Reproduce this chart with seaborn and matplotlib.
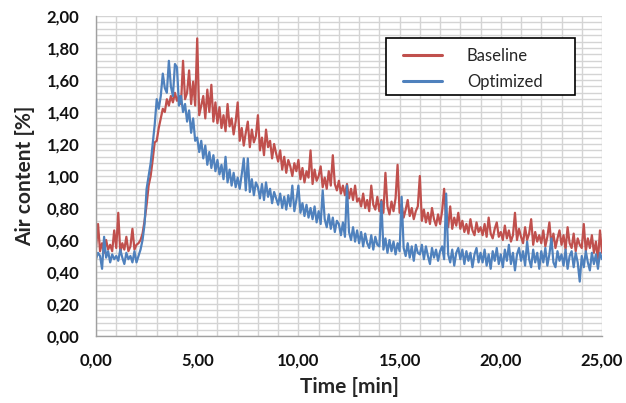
import numpy as np
import pandas as pd
import matplotlib
matplotlib.use("Agg")
import matplotlib.pyplot as plt
from matplotlib.patches import Rectangle
from matplotlib.ticker import MultipleLocator, FuncFormatter
import seaborn as sns

# Sampling time axis: one reading every 0.1 min from 0 to 25 min
time_min = [round(i * 0.1, 1) for i in range(251)]

baseline = [
    0.55, 0.70, 0.53, 0.58, 0.52, 0.60, 0.54, 0.57, 0.53, 0.66,
    0.55, 0.77, 0.52, 0.58, 0.54, 0.62, 0.53, 0.56, 0.67, 0.54,
    0.57, 0.58, 0.60, 0.64, 0.72, 0.82, 0.94, 1.00, 1.10, 1.21,
    1.22, 1.30, 1.36, 1.42, 1.40, 1.48, 1.44, 1.50, 1.46, 1.52,
    1.47, 1.50, 1.45, 1.72, 1.48, 1.52, 1.66, 1.45, 1.59, 1.44,
    1.86, 1.38, 1.44, 1.50, 1.36, 1.54, 1.40, 1.57, 1.34, 1.46,
    1.33, 1.43, 1.30, 1.38, 1.28, 1.45, 1.31, 1.36, 1.26, 1.34,
    1.46, 1.22, 1.30, 1.19, 1.27, 1.34, 1.18, 1.29, 1.21, 1.25,
    1.38, 1.16, 1.24, 1.13, 1.29, 1.18, 1.22, 1.11, 1.20, 1.14,
    1.09, 1.16, 1.04, 1.12, 1.02, 1.10, 1.06, 1.00, 1.08, 1.03,
    1.10, 0.98, 1.05, 0.96, 1.03, 0.99, 1.16, 0.95, 1.04, 0.97,
    1.00, 1.06, 0.93, 0.99, 0.92, 1.03, 0.94, 1.13, 0.95, 0.91,
    0.97, 0.89, 0.94, 0.88, 0.95, 0.86, 0.92, 0.85, 0.94, 0.84,
    0.86, 0.81, 0.89, 0.80, 0.85, 0.78, 0.94, 0.82, 0.79, 0.87,
    0.78, 0.85, 0.77, 1.02, 0.81, 0.76, 0.84, 0.78, 0.86, 1.07,
    0.77, 0.82, 0.74, 0.79, 0.85, 0.75, 0.80, 0.73, 0.78, 0.81,
    1.00, 0.72, 0.79, 0.71, 0.77, 0.70, 0.80, 0.73, 0.69, 0.76,
    0.70, 0.78, 0.92, 0.72, 0.68, 0.81, 0.67, 0.74, 0.69, 0.77,
    0.67, 0.72, 0.65, 0.70, 0.64, 0.73, 0.66, 0.63, 0.71, 0.65,
    0.68, 0.63, 0.70, 0.62, 0.74, 0.64, 0.61, 0.67, 0.71, 0.62,
    0.65, 0.60, 0.69, 0.61, 0.66, 0.59, 0.63, 0.77, 0.60, 0.67,
    0.62, 0.58, 0.68, 0.60, 0.64, 0.73, 0.57, 0.65, 0.59, 0.63,
    0.58, 0.66, 0.56, 0.62, 0.71, 0.57, 0.64, 0.55, 0.61, 0.66,
    0.57, 0.63, 0.54, 0.68, 0.58, 0.55, 0.64, 0.53, 0.61, 0.57,
    0.55, 0.70, 0.53, 0.61, 0.55, 0.63, 0.52, 0.59, 0.47, 0.66,
    0.52,
]

optimized = [
    0.48, 0.52, 0.50, 0.42, 0.62, 0.49, 0.53, 0.46, 0.51, 0.48,
    0.50, 0.47, 0.54, 0.49, 0.45, 0.52, 0.48, 0.50, 0.46, 0.53,
    0.46, 0.50, 0.54, 0.60, 0.70, 0.92, 1.00, 1.08, 1.20, 1.32,
    1.48, 1.42, 1.50, 1.64, 1.55, 1.52, 1.72, 1.56, 1.50, 1.70,
    1.68, 1.44, 1.50, 1.40, 1.45, 1.34, 1.41, 1.27, 1.36, 1.22,
    1.24, 1.15, 1.22, 1.11, 1.19, 1.07, 1.15, 1.05, 1.13, 1.03,
    1.10, 1.01, 1.07, 0.98, 1.12, 0.96, 1.04, 0.94, 1.02, 0.93,
    0.99, 0.92, 1.01, 1.11, 0.91, 1.11, 0.90, 0.98, 0.88, 0.96,
    0.93, 0.86, 0.95, 0.85, 0.96, 0.87, 0.92, 0.83, 0.90, 0.86,
    0.82, 0.89, 0.80, 0.87, 0.79, 0.88, 0.81, 0.94, 0.78, 0.85,
    0.94, 0.77, 0.83, 0.75, 0.82, 0.74, 0.80, 0.73, 0.81, 0.71,
    0.78, 0.70, 0.91, 0.73, 0.68, 0.76, 0.67, 0.74, 0.65, 0.72,
    0.70, 0.63, 0.71, 0.62, 0.94, 0.65, 0.60, 0.68, 0.59, 0.66,
    0.58, 0.65, 0.56, 0.64, 0.58, 0.55, 0.63, 0.54, 0.62, 0.57,
    0.56, 0.84, 0.54, 0.61, 0.52, 0.60, 0.53, 0.59, 0.51, 0.58,
    0.53, 0.87, 0.55, 0.50, 0.58, 0.49, 0.56, 0.47, 0.57, 0.52,
    0.51, 0.57, 0.48, 0.56, 0.50, 0.45, 0.55, 0.49, 0.54, 0.47,
    0.53, 0.56, 0.48, 0.89, 0.51, 0.46, 0.54, 0.44, 0.52, 0.55,
    0.48, 0.54, 0.45, 0.53, 0.47, 0.52, 0.43, 0.51, 0.55, 0.46,
    0.52, 0.46, 0.54, 0.44, 0.51, 0.42, 0.53, 0.47, 0.55, 0.45,
    0.51, 0.43, 0.54, 0.47, 0.57, 0.45, 0.52, 0.41, 0.51, 0.55,
    0.47, 0.53, 0.44, 0.59, 0.48, 0.43, 0.54, 0.46, 0.52, 0.42,
    0.53, 0.46, 0.55, 0.44, 0.51, 0.61, 0.46, 0.43, 0.53, 0.47,
    0.51, 0.44, 0.54, 0.42, 0.50, 0.53, 0.43, 0.52, 0.46, 0.34,
    0.50, 0.43, 0.53, 0.46, 0.41, 0.52, 0.45, 0.51, 0.42, 0.52,
    0.48,
]

series_names = ["Baseline", "Optimized"]
series_colors = ["#C0504D", "#4F81BD"]

df = pd.concat([
    pd.DataFrame({"Time": time_min, "Air": baseline, "Series": series_names[0]}),
    pd.DataFrame({"Time": time_min, "Air": optimized, "Series": series_names[1]}),
], ignore_index=True)

sns.set_theme(style="white")
plt.rcParams["font.family"] = ["Lato", "DejaVu Sans"]

W, H = 626, 403
fig = plt.figure(figsize=(W / 100, H / 100), dpi=100)
ax = fig.add_axes([96 / W, 1 - 336 / H, (602 - 96) / W, (336 - 16) / H])

sns.lineplot(data=df, x="Time", y="Air", hue="Series",
             palette=dict(zip(series_names, series_colors)),
             estimator=None, errorbar=None, linewidth=1.6, ax=ax, legend=True)

ax.set_xlim(0, 25)
ax.set_ylim(0, 2.0)

# Excel-style grid: 1 min vertical, 0.04 % horizontal
grid_color = "#D4D4D4"
ax.xaxis.set_major_locator(MultipleLocator(5))
ax.xaxis.set_minor_locator(MultipleLocator(1))
ax.yaxis.set_major_locator(MultipleLocator(0.2))
ax.yaxis.set_minor_locator(MultipleLocator(0.04))
ax.grid(True, which="both", color=grid_color, linewidth=1.0)
ax.set_axisbelow(True)

comma = FuncFormatter(lambda v, p: f"{v:.2f}".replace(".", ","))
ax.xaxis.set_major_formatter(comma)
ax.yaxis.set_major_formatter(comma)

for side in ["top", "right"]:
    ax.spines[side].set_visible(False)
for side in ["left", "bottom"]:
    ax.spines[side].set_color("#A0A0A0")
    ax.spines[side].set_linewidth(1.0)

ax.tick_params(axis="both", which="major", direction="out", length=5,
               width=1.0, color="#A0A0A0", labelsize=12, pad=7)
ax.tick_params(axis="both", which="minor", length=0)
for lbl in ax.get_xticklabels() + ax.get_yticklabels():
    lbl.set_fontweight("bold")
    lbl.set_color("#111111")

ax.set_xlabel("Time [min]", fontsize=15, fontweight="bold", labelpad=6)
ax.set_ylabel("Air content [%]", fontsize=15, fontweight="bold", labelpad=8)

# Legend with a boxed frame
handles, labels = ax.get_legend_handles_labels()
ax.get_legend().remove()
for h in handles:
    h.set_linewidth(2.2)
leg = fig.legend(handles, labels, loc="upper left",
                 bbox_to_anchor=(391 / W, 1 - 36 / H), frameon=False,
                 fontsize=12, handlelength=2.35, handletextpad=1.5,
                 labelspacing=0.6, borderpad=0.2)
fig.patches.append(Rectangle((386 / W, 1 - 95 / H), (575 - 386) / W, (95 - 38) / H,
                             transform=fig.transFigure, fill=True, facecolor="white",
                             edgecolor="black", linewidth=1.2, zorder=2))
leg.set_zorder(5)

fig.savefig("out.png", dpi=100)
